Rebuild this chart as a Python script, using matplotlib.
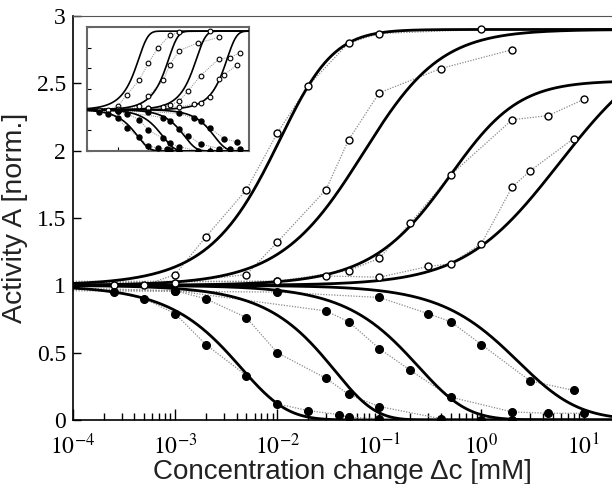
import numpy as np
import matplotlib
matplotlib.use('Agg')
import matplotlib.pyplot as plt
from matplotlib.ticker import LogLocator, NullFormatter, FixedLocator

plt.rcParams['mathtext.fontset'] = 'stix'

# ---------------- data ----------------
# open circles: activity increases
u1_c = [1e-4, 2.5e-4, 5e-4, 1e-3, 2e-3, 5e-3, 1e-2, 2e-2, 5e-2, 0.1, 1.0]
u1_a = [1.0, 1.0, 1.0, 1.08, 1.36, 1.71, 2.13, 2.48, 2.80, 2.87, 2.90]
u2_c = [1e-4, 1e-3, 5e-3, 1e-2, 3e-2, 5e-2, 0.1, 0.4, 2.0]
u2_a = [1.01, 1.02, 1.08, 1.32, 1.71, 2.08, 2.43, 2.61, 2.75]
u3_c = [1e-4, 1e-2, 5e-2, 0.1, 0.2, 0.5, 2.0, 4.5, 10.0]
u3_a = [1.02, 1.03, 1.11, 1.20, 1.46, 1.82, 2.23, 2.26, 2.38]
u4_c = [1e-4, 1e-2, 3e-2, 0.1, 0.3, 0.5, 1.0, 2.0, 3.0, 8.0]
u4_a = [1.03, 1.03, 1.07, 1.06, 1.14, 1.16, 1.31, 1.73, 1.85, 2.09]
# filled circles: activity decreases
d1_c = [1e-4, 2.5e-4, 5e-4, 1e-3, 2e-3, 5e-3, 1e-2, 2e-2, 4e-2, 5e-2, 0.1]
d1_a = [0.99, 0.95, 0.90, 0.79, 0.56, 0.33, 0.12, 0.07, 0.04, 0.02, 0.01]
d2_c = [1e-4, 1e-3, 2e-3, 5e-3, 1e-2, 3e-2, 5e-2, 0.1, 0.4, 1.0, 2.0]
d2_a = [0.98, 0.96, 0.90, 0.76, 0.50, 0.31, 0.19, 0.10, 0.01, 0.0, 0.0]
d3_c = [1e-4, 1e-3, 3e-2, 5e-2, 0.1, 0.2, 0.5, 2.0, 4.5, 10.0]
d3_a = [0.97, 0.96, 0.81, 0.73, 0.53, 0.37, 0.17, 0.06, 0.05, 0.05]
d4_c = [1e-4, 1e-2, 0.1, 0.3, 0.5, 1.0, 3.0, 8.0]
d4_a = [0.96, 0.95, 0.91, 0.79, 0.73, 0.56, 0.29, 0.22]

up_series = [(u1_c, u1_a), (u2_c, u2_a), (u3_c, u3_a), (u4_c, u4_a)]
down_series = [(d1_c, d1_a), (d2_c, d2_a), (d3_c, d3_a), (d4_c, d4_a)]

# model curves, main panel: A = M / (1 + (M-1) * (1 + c/K)^(s*N))
up_M = [2.9, 2.9, 2.52, 2.9]
up_K = [0.0108, 0.031, 0.333, 1.43]
up_N = [2.3, 1.2, 1.5, 0.8]
down_M = [2.9, 2.9, 2.9, 2.9]
down_K = [0.0195, 0.55, 0.77, 3.55]
down_N = [6.0, 20.0, 4.4, 2.2]
# model curves, inset: A = M / (1 + (M-1) * exp(s*a*c))
inset_M = 2.9
inset_up_a = [380.0, 40.0, 5.0, 0.5]
inset_down_a = [293.0, 45.0, 8.7, 0.93]

x_ticks = [1e-4, 1e-3, 1e-2, 1e-1, 1e0, 1e1]
x_ticklabels = [r'$10^{-4}$', r'$10^{-3}$', r'$10^{-2}$', r'$10^{-1}$', r'$10^{0}$', r'$10^{1}$']
y_ticks = [0, 0.5, 1, 1.5, 2, 2.5, 3]
y_ticklabels = ['0', '0.5', '1', '1.5', '2', '2.5', '3']
xlim = (1e-4, 19.0)
ylim = (0, 3)

# ---------------- figure ----------------
fig = plt.figure(figsize=(6.12, 4.84), dpi=100)
W, H = 612.0, 484.0
ax = fig.add_axes([73 / W, 1 - 420 / H, (612 - 73) / W, (420 - 16) / H])

cc = np.logspace(np.log10(xlim[0]), np.log10(xlim[1]), 600)

def mwc(c, M, K, N, s):
    return M / (1.0 + (M - 1.0) * (1.0 + c / K) ** (s * N))

def mwc_exp(c, M, a, s):
    return M / (1.0 + (M - 1.0) * np.exp(s * a * c))

dot_kw = dict(color='#8a8a8a', linestyle=(0, (1, 1.2)), linewidth=0.9)

for c, a in up_series:
    ax.plot(c, a, **dot_kw, zorder=2)
    ax.plot(c[1:], a[1:], 'o', ms=5, mfc='white', mec='black', mew=1.0, zorder=4)
for c, a in down_series:
    ax.plot(c, a, **dot_kw, zorder=2)
    ax.plot(c[1:], a[1:], 'o', ms=5.5, mfc='black', mec='black', zorder=4)

for M, K, N in zip(up_M, up_K, up_N):
    ax.plot(cc, mwc(cc, M, K, N, -1), color='black', lw=2.0, zorder=3)
for M, K, N in zip(down_M, down_K, down_N):
    ax.plot(cc, mwc(cc, M, K, N, +1), color='black', lw=2.0, zorder=3)

ax.set_xscale('log')
ax.set_xlim(*xlim)
ax.set_ylim(*ylim)
ax.xaxis.set_major_locator(FixedLocator(x_ticks))
ax.xaxis.set_minor_locator(LogLocator(base=10, subs=np.arange(2, 10)))
ax.xaxis.set_minor_formatter(NullFormatter())
ax.set_xticklabels(x_ticklabels)
ax.set_yticks(y_ticks)
ax.set_yticklabels(y_ticklabels)
ax.tick_params(axis='x', which='major', direction='in', length=8, width=1, top=False,
               labelsize=17, pad=10)
ax.tick_params(axis='x', which='minor', direction='in', length=5, width=1, top=False)
ax.tick_params(axis='y', which='major', direction='in', length=6, width=1, right=False,
               labelsize=17, pad=5)
for lab in ax.get_yticklabels():
    lab.set_fontfamily('Liberation Serif')
ax.spines['right'].set_visible(False)
ax.spines['top'].set_color('#555555')
ax.spines['left'].set_linewidth(1.2)
ax.spines['bottom'].set_linewidth(1.2)

ax.set_xlabel('Concentration change \u0394c [mM]', fontsize=20, family='Liberation Sans',
              color='#222222', labelpad=0)
ax.set_ylabel('Activity A [norm.]', fontsize=20.5, family='Liberation Sans',
              color='#222222', labelpad=6)

# ---------------- inset ----------------
ins = fig.add_axes([87 / W, 1 - 151 / H, 162 / W, 124 / H])
for c, a in up_series:
    ins.plot(c, a, color='#8a8a8a', linestyle=(0, (1, 1.2)), linewidth=0.7, zorder=2)
    ins.plot(c[1:], a[1:], 'o', ms=3.4, mfc='white', mec='black', mew=0.8, zorder=4)
for c, a in down_series:
    ins.plot(c, a, color='#8a8a8a', linestyle=(0, (1, 1.2)), linewidth=0.7, zorder=2)
    ins.plot(c[1:], a[1:], 'o', ms=3.6, mfc='black', mec='black', zorder=4)
for a_ in inset_up_a:
    ins.plot(cc, mwc_exp(cc, inset_M, a_, -1), color='black', lw=1.2, zorder=3)
for a_ in inset_down_a:
    ins.plot(cc, mwc_exp(cc, inset_M, a_, +1), color='black', lw=1.2, zorder=3)
ins.set_xscale('log')
ins.set_xlim(*xlim)
ins.set_ylim(*ylim)
ins.xaxis.set_major_locator(FixedLocator(x_ticks))
ins.xaxis.set_minor_locator(FixedLocator([]))
ins.set_yticks(y_ticks)
ins.tick_params(direction='in', length=3, width=0.8, labelbottom=False, labelleft=False)
for sp in ins.spines.values():
    sp.set_color('#666666')
    sp.set_linewidth(1.5)

fig.savefig('out.png', dpi=100)
